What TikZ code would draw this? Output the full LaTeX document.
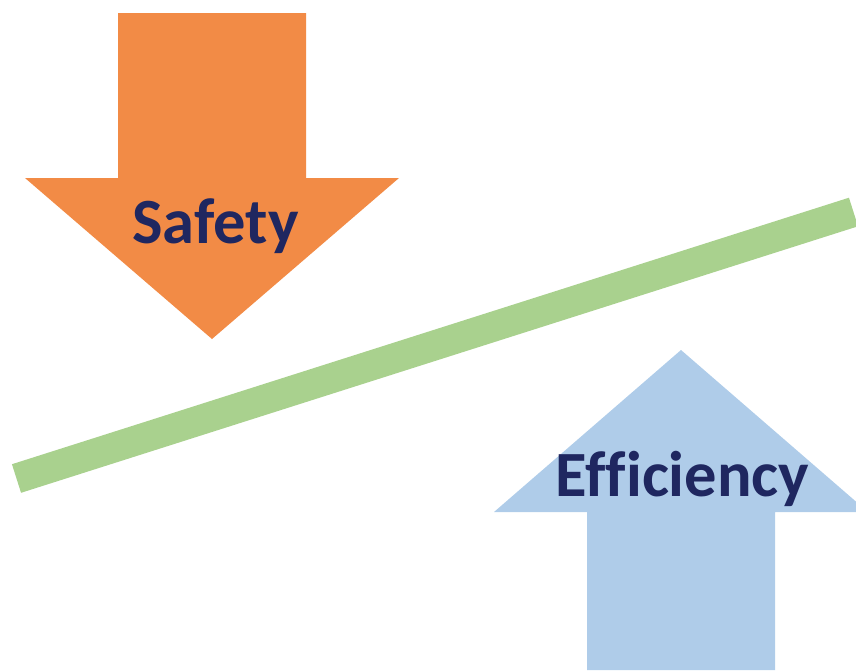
\documentclass[tikz,border=0pt]{standalone}
\usepackage{fontspec}
\setmainfont[Ligatures=CommonOff]{Carlito}
\definecolor{sorange}{HTML}{F28B46}
\definecolor{eblue}{HTML}{AFCCE9}
\definecolor{bgreen}{HTML}{A9D18E}
\definecolor{navy}{HTML}{1F2760}
\begin{document}
\begin{tikzpicture}[x=1pt,y=-1pt,
  lbl/.style={inner sep=0pt,anchor=base,text=navy,font=\fontsize{64.5}{64.5}\selectfont\bfseries}]
\useasboundingbox (0,0) rectangle (856,670);
% orange arrow
\fill[sorange] (118,13) -- (306,13) -- (306,178) -- (399,178) -- (212,339) -- (25,178) -- (118,178) -- cycle;
% blue arrow
\fill[eblue] (587,670) -- (587,512) -- (494,512) -- (681,350) -- (868,512) -- (775,512) -- (775,670) -- cycle;
% green beam
\coordinate (bl) at (16.5,478.5);
\coordinate (br) at (853.5,212);
\draw[bgreen,line width=30pt,line cap=butt] (bl) -- (br);
\node[lbl] (safety) at (215.5,243) {Safety};
\node[lbl] (eff) at (682.5,496) {Efficiency};
\end{tikzpicture}
\end{document}
